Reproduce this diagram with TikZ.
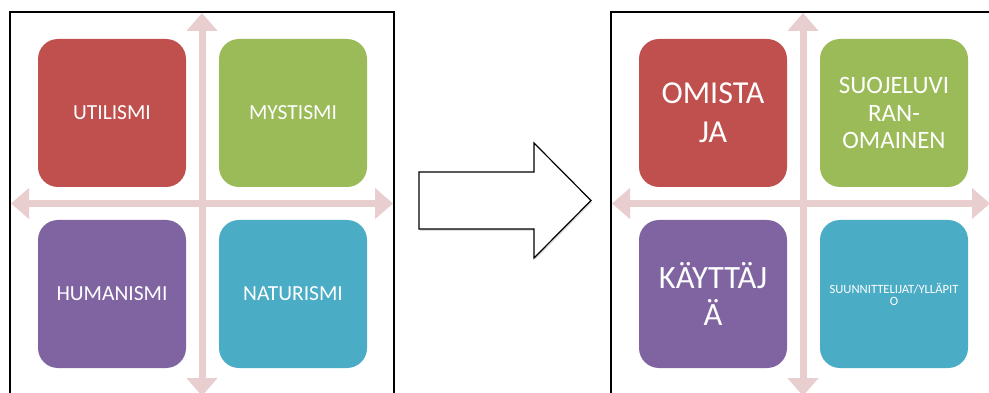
\documentclass[tikz,border=0pt]{standalone}
\usepackage{fontspec}
\setmainfont{Carlito}
\usepackage{tikz}
\usetikzlibrary{arrows.meta,shadows,calc}
\definecolor{accred}{RGB}{192,80,77}
\definecolor{accgreen}{RGB}{155,187,89}
\definecolor{accpurple}{RGB}{128,100,162}
\definecolor{accteal}{RGB}{75,172,198}
\definecolor{axispink}{RGB}{232,206,206}

\begin{document}
\begin{tikzpicture}[x=1pt, y=1pt]
\tikzstyle{quad}=[rectangle, rounded corners=20pt, minimum width=148pt, minimum height=148pt, inner sep=0pt, text=white, align=center, node distance=181pt, font=\fontsize{21.5}{26}\selectfont]
\tikzstyle{axis}=[axispink, line width=7pt, {Triangle[width=30pt,length=18pt]}-{Triangle[width=30pt,length=18pt]}]
\tikzstyle{frame}=[black, line width=1.4pt]
\tikzstyle{bigarrow}=[draw=black, line width=1.2pt, fill=white, line join=miter, drop shadow={opacity=0.25, shadow xshift=1pt, shadow yshift=-2pt}]

\useasboundingbox (0,0) rectangle (989,-393);
\fill[white] (0,0) rectangle (989,-393);

  % left panel
  \draw[frame] (10,-396) |- (394,-12) -- (394,-396);
  \coordinate (ltop)   at (202,-13);
  \coordinate (lbot)   at (202,-396);
  \coordinate (lleft)  at (11,-203.5);
  \coordinate (lright) at (393,-203.5);
  \draw[axis] (lbot) -- (ltop);
  \draw[axis] (lleft) -- (lright);

  \node[quad, fill=accred]    (util)  at (112,-113)   {UTILISMI};
  \node[quad, fill=accgreen]  (myst)  [right of =util] {MYSTISMI};
  \node[quad, fill=accpurple] (human) [below of =util] {HUMANISMI};
  \node[quad, fill=accteal]   (natur) [below of =myst] {NATURISMI};

  % middle arrow
  \draw[bigarrow] (419,-172) -- (534,-172) -- (534,-143) -- (591,-200.5)
                  -- (534,-258) -- (534,-229) -- (419,-229) -- cycle;

  % right panel
  \draw[frame] (611,-396) |- (995,-12);
  \coordinate (rtop)   at (803,-13);
  \coordinate (rbot)   at (803,-396);
  \coordinate (rleft)  at (612,-203.5);
  \coordinate (rright) at (990,-203.5);
  \draw[axis] (rbot) -- (rtop);
  \draw[axis] (rleft) -- (rright);

  \node[quad, fill=accred, font=\fontsize{32}{38.7}\selectfont]       (omistaja) at (713,-113)      {OMISTA\\JA};
  \node[quad, fill=accgreen, font=\fontsize{25}{27.3}\selectfont]     (suojelu)  [right of =omistaja] {SUOJELUVI\\RAN-\\OMAINEN};
  \node[quad, fill=accpurple, font=\fontsize{32.5}{37.7}\selectfont]  (kayttaja) [below of =omistaja] {KÄYTTÄJ\\Ä};
  \node[quad, fill=accteal, font=\fontsize{12.6}{12}\selectfont]      (suunnit)  [below of =suojelu]  {SUUNNITTELIJAT/YLLÄPIT\\O};

\end{tikzpicture}
\end{document}
